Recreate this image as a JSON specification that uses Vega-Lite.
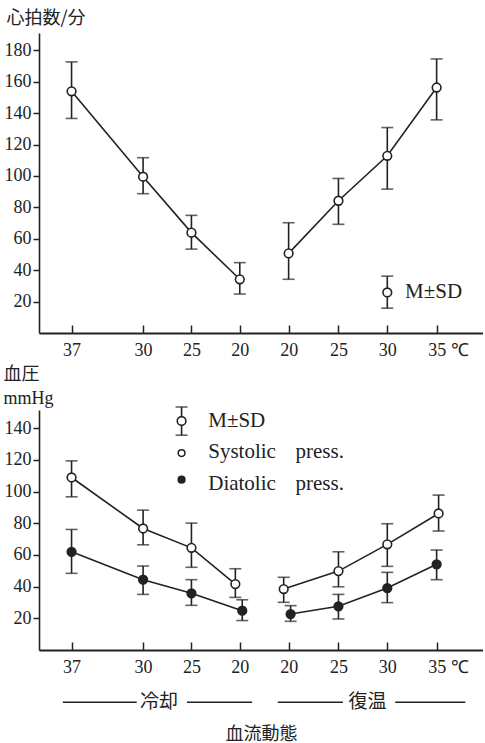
{
  "$schema": "https://vega.github.io/schema/vega-lite/v6.json",
  "background": "white",
  "padding": {"left": 3, "top": 9, "right": 0, "bottom": 0},
  "bounds": "flush",
  "spacing": 77,
  "datasets": {
    "hr": [
      {"pos": 0, "phase": "c", "mean": 153.9, "lo": 136.6, "hi": 172.6},
      {"pos": 7.25, "phase": "c", "mean": 99.5, "lo": 88.7, "hi": 111.6},
      {"pos": 12.15, "phase": "c", "mean": 63.9, "lo": 53.4, "hi": 74.9},
      {"pos": 17.05, "phase": "c", "mean": 34.2, "lo": 24.8, "hi": 44.8},
      {"pos": 22, "phase": "r", "mean": 50.7, "lo": 34.2, "hi": 70.2},
      {"pos": 27.05, "phase": "r", "mean": 84.2, "lo": 69.2, "hi": 98.4},
      {"pos": 32, "phase": "r", "mean": 112.8, "lo": 91.6, "hi": 130.8},
      {"pos": 37, "phase": "r", "mean": 156.3, "lo": 135.7, "hi": 174.5},
      {"pos": 32, "phase": "legend", "mean": 25.8, "lo": 15.8, "hi": 36.2}
    ],
    "leg1": [
      {"pos": 33.8, "val": 25.8, "label": "M±SD"}
    ],
    "bp": [
      {"pos": 0, "phase": "c", "type": "S", "mean": 108.9, "lo": 96.7, "hi": 119.4},
      {"pos": 7.25, "phase": "c", "type": "S", "mean": 76.7, "lo": 66.4, "hi": 88.3},
      {"pos": 12.15, "phase": "c", "type": "S", "mean": 64.5, "lo": 52.2, "hi": 80.1},
      {"pos": 16.6, "phase": "c", "type": "S", "mean": 41.6, "lo": 33.2, "hi": 51.3},
      {"pos": 21.5, "phase": "r", "type": "S", "mean": 38.5, "lo": 30.1, "hi": 45.9},
      {"pos": 27.05, "phase": "r", "type": "S", "mean": 49.8, "lo": 39.9, "hi": 62.0},
      {"pos": 32, "phase": "r", "type": "S", "mean": 66.7, "lo": 52.8, "hi": 79.7},
      {"pos": 37.2, "phase": "r", "type": "S", "mean": 86.2, "lo": 75.1, "hi": 97.8},
      {"pos": 0, "phase": "c", "type": "D", "mean": 62.0, "lo": 48.4, "hi": 76.1},
      {"pos": 7.25, "phase": "c", "type": "D", "mean": 44.4, "lo": 35.1, "hi": 53.0},
      {"pos": 12.15, "phase": "c", "type": "D", "mean": 35.8, "lo": 28.2, "hi": 44.4},
      {"pos": 17.3, "phase": "c", "type": "D", "mean": 24.8, "lo": 18.6, "hi": 31.7},
      {"pos": 22.2, "phase": "r", "type": "D", "mean": 22.7, "lo": 18.1, "hi": 28.0},
      {"pos": 27.05, "phase": "r", "type": "D", "mean": 27.6, "lo": 19.6, "hi": 35.1},
      {"pos": 32, "phase": "r", "type": "D", "mean": 39.1, "lo": 29.9, "hi": 49.0},
      {"pos": 37, "phase": "r", "type": "D", "mean": 54.1, "lo": 44.4, "hi": 63.1},
      {"pos": 11.15, "phase": "legend", "type": "S", "mean": 144.6, "lo": 135.6, "hi": 153.4}
    ],
    "leg2pts": [
      {"pos": 11.15, "val": 124.3, "type": "S"},
      {"pos": 11.15, "val": 107.5, "type": "D"}
    ],
    "leg2txt": [
      {"pos": 13.85, "val": 144.6, "label": "M±SD"},
      {"pos": 13.85, "val": 124.7, "label": "Systolic"},
      {"pos": 22.7, "val": 124.7, "label": "press."},
      {"pos": 13.85, "val": 105.1, "label": "Diatolic"},
      {"pos": 22.7, "val": 105.1, "label": "press."}
    ],
    "annLines": [
      {"pos": -0.88, "pos2": 6.6, "val": -33},
      {"pos": 11.7, "pos2": 18.3, "val": -33},
      {"pos": 20.9, "pos2": 27.5, "val": -33},
      {"pos": 32.8, "pos2": 39.9, "val": -33}
    ],
    "annText": [
      {"pos": 8.85, "val": -33, "label": "冷却"},
      {"pos": 30.0, "val": -33, "label": "復温"}
    ]
  },
  "vconcat": [
    {
      "width": 444,
      "height": 300,
      "encoding": {
        "x": {
          "field": "pos", "type": "quantitative",
          "scale": {"domain": [-3.3, 41.7], "nice": false, "zero": false},
          "axis": {
            "title": null,
            "values": [0, 7.25, 12.15, 17.05, 22, 27.05, 32, 37],
            "tickCount": 50,
            "labelExpr": "datum.value < 1 ? '37' : datum.value < 8 ? '30' : datum.value < 13 ? '25' : datum.value < 23 ? '20' : datum.value < 28 ? '25' : datum.value < 33 ? '30' : '35 ℃'",
            "labelAlign": {"condition": {"test": "datum.value > 36", "value": "left"}, "value": "center"},
            "labelOffset": {"condition": {"test": "datum.value > 36", "value": -9}, "value": 0},
            "tickSize": -8,
            "labelPadding": 16,
            "domainWidth": 2
          }
        }
      },
      "layer": [
        {
          "data": {"name": "hr"},
          "transform": [{"filter": "datum.phase != 'legend'"}],
          "mark": {"type": "line", "color": "#222", "strokeWidth": 1.6},
          "encoding": {
            "y": {
              "field": "mean", "type": "quantitative",
              "scale": {"domain": [0, 191], "nice": false},
              "axis": {
                "values": [20, 40, 60, 80, 100, 120, 140, 160, 180],
                "tickCount": 50,
                "title": "心拍数/分",
                "titleFont": "Noto Sans CJK JP",
                "titleFontSize": 18,
                "titleAngle": 0,
                "titleAlign": "left",
                "titleBaseline": "middle",
                "titleX": -33,
                "titleY": -15,
                "tickSize": 6,
                "labelPadding": 2
              }
            },
            "detail": {"field": "phase"}
          }
        },
        {
          "data": {"name": "hr"},
          "mark": {"type": "rule", "color": "#222", "strokeWidth": 1.6},
          "encoding": {
            "y": {"field": "lo", "type": "quantitative", "scale": {"domain": [0, 191], "nice": false}},
            "y2": {"field": "hi"}
          }
        },
        {
          "data": {"name": "hr"},
          "mark": {"type": "tick", "orient": "horizontal", "color": "#222", "size": 12, "thickness": 1.6},
          "encoding": {
            "y": {"field": "lo", "type": "quantitative", "scale": {"domain": [0, 191], "nice": false}}
          }
        },
        {
          "data": {"name": "hr"},
          "mark": {"type": "tick", "orient": "horizontal", "color": "#222", "size": 12, "thickness": 1.6},
          "encoding": {
            "y": {"field": "hi", "type": "quantitative", "scale": {"domain": [0, 191], "nice": false}}
          }
        },
        {
          "data": {"name": "hr"},
          "mark": {"type": "point", "shape": "circle", "filled": true, "fill": "white", "stroke": "#222", "strokeWidth": 1.6, "size": 75, "opacity": 1},
          "encoding": {
            "y": {"field": "mean", "type": "quantitative", "scale": {"domain": [0, 191], "nice": false}}
          }
        },
        {
          "data": {"name": "leg1"},
          "mark": {"type": "text", "align": "left", "baseline": "middle", "font": "Liberation Serif", "fontSize": 21, "color": "#222"},
          "encoding": {
            "y": {"field": "val", "type": "quantitative", "scale": {"domain": [0, 191], "nice": false}},
            "text": {"field": "label"}
          }
        }
      ]
    },
    {
      "width": 444,
      "height": 240,
      "encoding": {
        "x": {
          "field": "pos", "type": "quantitative",
          "scale": {"domain": [-3.3, 41.7], "nice": false, "zero": false},
          "axis": {
            "title": "血流動態",
            "titleFont": "Noto Sans CJK JP",
            "titleFontSize": 18,
            "titleBaseline": "middle",
            "titleAlign": "center",
            "titleX": 222,
            "titleY": 84,
            "values": [0, 7.25, 12.15, 17.05, 22, 27.05, 32, 37],
            "tickCount": 50,
            "labelExpr": "datum.value < 1 ? '37' : datum.value < 8 ? '30' : datum.value < 13 ? '25' : datum.value < 23 ? '20' : datum.value < 28 ? '25' : datum.value < 33 ? '30' : '35 ℃'",
            "labelAlign": {"condition": {"test": "datum.value > 36", "value": "left"}, "value": "center"},
            "labelOffset": {"condition": {"test": "datum.value > 36", "value": -9}, "value": 0},
            "tickSize": -8,
            "labelPadding": 16,
            "domainWidth": 2
          }
        }
      },
      "layer": [
        {
          "data": {"name": "bp"},
          "transform": [{"filter": "datum.phase != 'legend'"}],
          "mark": {"type": "line", "color": "#222", "strokeWidth": 1.6},
          "encoding": {
            "y": {
              "field": "mean", "type": "quantitative",
              "scale": {"domain": [0, 151.5], "nice": false},
              "axis": {
                "values": [20, 40, 60, 80, 100, 120, 140],
                "tickCount": 50,
                "title": ["血圧", "mmHg"],
                "titleFont": "Liberation Serif, Noto Sans CJK JP",
                "titleFontSize": 18,
                "titleLineHeight": 24,
                "titleAngle": 0,
                "titleAlign": "left",
                "titleBaseline": "alphabetic",
                "titleX": -36,
                "titleY": -31,
                "tickSize": 6,
                "labelPadding": 2
              }
            },
            "detail": [{"field": "phase"}, {"field": "type"}]
          }
        },
        {
          "data": {"name": "bp"},
          "mark": {"type": "rule", "color": "#222", "strokeWidth": 1.6},
          "encoding": {
            "y": {"field": "lo", "type": "quantitative", "scale": {"domain": [0, 151.5], "nice": false}},
            "y2": {"field": "hi"}
          }
        },
        {
          "data": {"name": "bp"},
          "mark": {"type": "tick", "orient": "horizontal", "color": "#222", "size": 12, "thickness": 1.6},
          "encoding": {
            "y": {"field": "lo", "type": "quantitative", "scale": {"domain": [0, 151.5], "nice": false}}
          }
        },
        {
          "data": {"name": "bp"},
          "mark": {"type": "tick", "orient": "horizontal", "color": "#222", "size": 12, "thickness": 1.6},
          "encoding": {
            "y": {"field": "hi", "type": "quantitative", "scale": {"domain": [0, 151.5], "nice": false}}
          }
        },
        {
          "data": {"name": "bp"},
          "mark": {"type": "point", "shape": "circle", "filled": true, "stroke": "#222", "strokeWidth": 1.6, "size": 75, "opacity": 1},
          "encoding": {
            "y": {"field": "mean", "type": "quantitative", "scale": {"domain": [0, 151.5], "nice": false}},
            "fill": {"field": "type", "type": "nominal", "scale": {"domain": ["S", "D"], "range": ["white", "#222"]}, "legend": null}
          }
        },
        {
          "data": {"name": "leg2pts"},
          "mark": {"type": "point", "shape": "circle", "filled": true, "stroke": "#222", "strokeWidth": 1.5, "size": 45, "opacity": 1},
          "encoding": {
            "y": {"field": "val", "type": "quantitative", "scale": {"domain": [0, 151.5], "nice": false}},
            "fill": {"field": "type", "type": "nominal", "scale": {"domain": ["S", "D"], "range": ["white", "#222"]}, "legend": null}
          }
        },
        {
          "data": {"name": "leg2txt"},
          "mark": {"type": "text", "align": "left", "baseline": "middle", "font": "Liberation Serif", "fontSize": 21, "color": "#222"},
          "encoding": {
            "y": {"field": "val", "type": "quantitative", "scale": {"domain": [0, 151.5], "nice": false}},
            "text": {"field": "label"}
          }
        },
        {
          "data": {"name": "annLines"},
          "mark": {"type": "rule", "color": "#222", "strokeWidth": 1.6},
          "encoding": {
            "x2": {"field": "pos2"},
            "y": {"field": "val", "type": "quantitative", "scale": {"domain": [0, 151.5], "nice": false}}
          }
        },
        {
          "data": {"name": "annText"},
          "mark": {"type": "text", "align": "center", "baseline": "middle", "font": "Noto Sans CJK JP", "fontSize": 19, "color": "#222"},
          "encoding": {
            "y": {"field": "val", "type": "quantitative", "scale": {"domain": [0, 151.5], "nice": false}},
            "text": {"field": "label"}
          }
        }
      ]
    }
  ],
  "config": {
    "view": {"stroke": null},
    "axis": {
      "grid": false,
      "labelFont": "Liberation Serif",
      "labelFontSize": 18,
      "labelOverlap": false,
      "labelColor": "#222",
      "domainColor": "#222",
      "domainWidth": 1.6,
      "tickColor": "#222",
      "tickWidth": 1.5,
      "titleColor": "#222",
      "titleFontWeight": "normal"
    }
  }
}
